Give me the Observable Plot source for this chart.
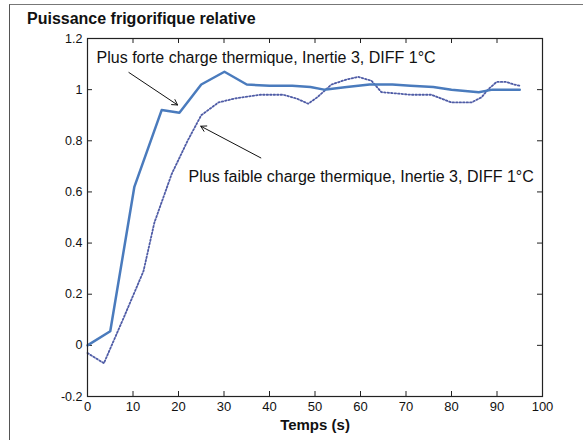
<!DOCTYPE html>
<html>
<head>
<meta charset="utf-8">
<script src="https://cdn.jsdelivr.net/npm/d3@7"></script>
<script src="https://cdn.jsdelivr.net/npm/@observablehq/plot@0.6"></script>
<style>
  html, body { margin: 0; padding: 0; background: #fff; }
  #wrap { position: relative; width: 583px; height: 440px; font-family: "Liberation Sans", Arial, sans-serif; }
  #border { position: absolute; left: 9px; top: 4px; width: 574px; height: 436px;
            border-left: 1.5px solid #555; border-top: 1.5px solid #777; box-sizing: border-box; pointer-events: none; }
  #head { position: relative; height: 30px; }
  #title { position: absolute; left: 27px; top: 10px; font-weight: bold; font-size: 16px; line-height: 18px; color: #111; }
  #chart svg { display: block; }
</style>
</head>
<body>
<div id="wrap">
  <div id="border"></div>
  <div id="head"><div id="title">Puissance frigorifique relative</div></div>
  <div id="chart"></div>
</div>
<script>
// Data
const tForte = [0, 5, 10.3, 16.3, 20.2, 25, 30.1, 35, 40, 45, 49, 52, 57, 62, 67, 71, 76, 80, 86, 89, 95];
const vForte = [0, 0.055, 0.62, 0.92, 0.91, 1.02, 1.07, 1.02, 1.015, 1.015, 1.01, 1.0, 1.01, 1.02, 1.02, 1.015, 1.01, 1.0, 0.99, 1.0, 1.0];

const tFaible = [0, 3.6, 8, 12.3, 14.7, 18.5, 22, 25, 28.8, 32.3, 38, 43, 46, 48.5, 50.5, 53.6, 57, 59.5, 62.4, 64.6, 68, 71, 75.6, 80, 84.4, 86.6, 88, 89.9, 92, 93.8, 95];
const vFaible = [-0.03, -0.07, 0.11, 0.29, 0.48, 0.67, 0.80, 0.90, 0.95, 0.965, 0.98, 0.98, 0.965, 0.945, 0.97, 1.02, 1.04, 1.05, 1.035, 0.99, 0.985, 0.98, 0.98, 0.95, 0.95, 0.97, 1.0, 1.03, 1.03, 1.02, 1.015];

const xTicks = [0, 10, 20, 30, 40, 50, 60, 70, 80, 90, 100];
const yTicks = [-0.2, 0, 0.2, 0.4, 0.6, 0.8, 1, 1.2];
const xLabel = "Temps (s)";

const noteTexts = ["Plus forte charge thermique, Inertie 3, DIFF 1°C", "Plus faible charge thermique, Inertie 3, DIFF 1°C"];
const noteT = [2, 22.2];
const noteV = [1.124, 0.658];
const arrowFromT = [9.1, 38.1];
const arrowFromV = [1.067, 0.733];
const arrowToT = [19.8, 24.9];
const arrowToV = [0.94, 0.857];

const forte = tForte.map((t, i) => ({t, v: vForte[i]}));
const faible = tFaible.map((t, i) => ({t, v: vFaible[i]}));
const notes = noteTexts.map((text, i) => ({text, t: noteT[i], v: noteV[i]}));
const arrows = arrowFromT.map((t1, i) => ({t1, v1: arrowFromV[i], t2: arrowToT[i], v2: arrowToV[i]}));

const W = 583, H = 410, mL = 87, mR = 41, mT = 8, mB = 44;
const innerW = W - mL - mR, innerH = H - mT - mB, tick = 5;

const chart = Plot.plot({
  width: W, height: H,
  marginLeft: mL, marginRight: mR, marginTop: mT, marginBottom: mB,
  style: {fontFamily: "'Liberation Sans', Arial, sans-serif", background: "white", color: "#111"},
  x: {domain: [0, 100]},
  y: {domain: [-0.2, 1.2]},
  marks: [
    Plot.axisX(xTicks, {tickSize: 0, tickPadding: 5, fontSize: 13, label: null, tickFormat: d => String(d)}),
    Plot.axisY(yTicks, {tickSize: 0, tickPadding: 5, fontSize: 12.5, label: null, tickFormat: d => String(d)}),
    Plot.tickX(xTicks, {x: d => d, insetTop: innerH - tick, stroke: "#222", strokeWidth: 1}),
    Plot.tickX(xTicks, {x: d => d, insetBottom: innerH - tick, stroke: "#222", strokeWidth: 1}),
    Plot.tickY(yTicks, {y: d => d, insetRight: innerW - tick, stroke: "#222", strokeWidth: 1}),
    Plot.tickY(yTicks, {y: d => d, insetLeft: innerW - tick, stroke: "#222", strokeWidth: 1}),
    Plot.line(faible, {x: "t", y: "v", stroke: "#4f5ca6", strokeWidth: 1.8, strokeDasharray: "1.5,2"}),
    Plot.line(forte, {x: "t", y: "v", stroke: "#4a7bbd", strokeWidth: 2.5}),
    Plot.arrow(arrows, {x1: "t1", y1: "v1", x2: "t2", y2: "v2", stroke: "#111", strokeWidth: 1, headLength: 9}),
    Plot.text(notes, {x: "t", y: "v", text: "text", textAnchor: "start", fontSize: 16, fill: "#111"}),
    Plot.text([xLabel], {text: d => d, frameAnchor: "bottom", dy: 33, fontSize: 15, fontWeight: "bold", fill: "#111"}),
    Plot.frame({stroke: "#222", strokeWidth: 1.2})
  ]
});
document.getElementById("chart").appendChild(chart);
</script>
</body>
</html>
